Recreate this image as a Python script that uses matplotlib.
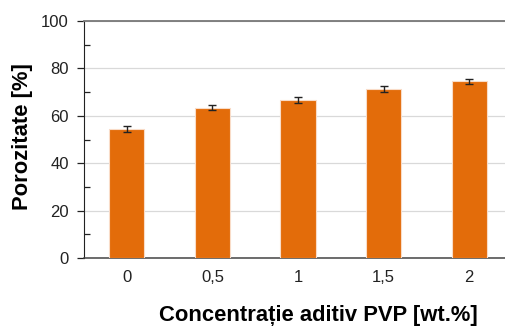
import numpy as np
import matplotlib
matplotlib.use('Agg')
import matplotlib.pyplot as plt
from matplotlib.ticker import MultipleLocator

plt.rcParams['font.family'] = ['Liberation Sans', 'DejaVu Sans']

# data
categories = ['0', '0,5', '1', '1,5', '2']
porosity = [54.3, 63.4, 66.7, 71.4, 74.5]
errors = [1.3, 1.0, 1.3, 1.3, 1.1]

fig = plt.figure(figsize=(5.06, 3.26), dpi=100)
ax = fig.add_axes([84 / 506, (326 - 258) / 326, (512 - 84) / 506, (258 - 21) / 326])

x = np.arange(len(categories))
ax.bar(x, porosity, width=0.41, color='#E36C0A', edgecolor='#F9DCC8', linewidth=0.8,
       zorder=3)
ax.errorbar(x, porosity, yerr=errors, fmt='none', ecolor='#222222', elinewidth=1.0,
            capsize=3, capthick=1.0, zorder=4)

ax.set_xlim(-0.5, 4.5)
ax.set_ylim(0, 100)
ax.set_xticks(x)
ax.set_xticklabels(categories)
ax.yaxis.set_major_locator(MultipleLocator(20))
ax.yaxis.set_minor_locator(MultipleLocator(10))
ax.grid(axis='y', which='major', color='#D9D9D9', linewidth=0.9, zorder=0)

ax.tick_params(axis='y', which='major', direction='out', length=5, width=0.9,
               labelsize=12, pad=6, colors='#222222')
ax.tick_params(axis='y', which='minor', direction='in', length=4, width=0.9,
               color='#222222')
ax.tick_params(axis='x', length=0, labelsize=12, pad=9, colors='#222222')

ax.spines['right'].set_visible(False)
ax.spines['top'].set_color('#777777')
ax.spines['top'].set_linewidth(1.3)
ax.spines['left'].set_color('#222222')
ax.spines['bottom'].set_color('#444444')
ax.spines['bottom'].set_linewidth(1.1)

fig.text(23 / 506, 1 - 136.5 / 326, 'Porozitate [%]', rotation=90, ha='center',
         va='center', fontsize=15.8, fontweight='bold')
fig.text(318.5 / 506, 1 - 320.5 / 326, 'Concentrație aditiv PVP [wt.%]', ha='center',
         va='baseline', fontsize=15.8, fontweight='bold')

fig.savefig('out.png', dpi=100)
